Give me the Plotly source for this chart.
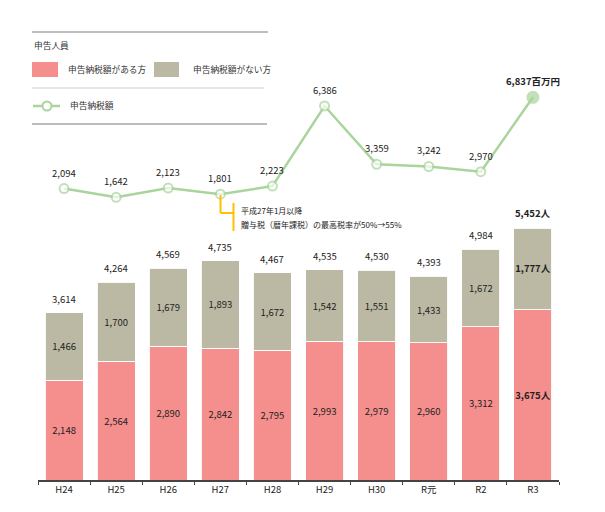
import plotly.graph_objects as go

years = ["H24", "H25", "H26", "H27", "H28", "H29", "H30", "R元", "R2", "R3"]
with_tax = [2148, 2564, 2890, 2842, 2795, 2993, 2979, 2960, 3312, 3675]
without_tax = [1466, 1700, 1679, 1893, 1672, 1542, 1551, 1433, 1672, 1777]
totals = [3614, 4264, 4569, 4735, 4467, 4535, 4530, 4393, 4984, 5452]
tax_amount = [2094, 1642, 2123, 1801, 2223, 6386, 3359, 3242, 2970, 6837]

PINK = "#f58f8d"
GRAY = "#bbb9a4"
GREEN = "#a9d49c"
ORANGE = "#ffc000"
TXT = "#222222"
FONT = "Noto Sans CJK JP, sans-serif"

W, H = 605, 512
L, R, T, B = 38, 46, 20, 32
PW, PH = W - L - R, H - T - B


def px(x):
    return (x - L) / PW


def py(y):
    return (H - B - y) / PH


def label(v, i, unit=""):
    s = f"{v:,}"
    if i == len(years) - 1:
        return f"<b>{s}{unit}</b>"
    return s


fig = go.Figure()

fig.add_trace(go.Bar(
    x=years, y=with_tax, name="申告納税額がある方",
    marker=dict(color=PINK, line=dict(color="rgba(255,255,255,0.9)", width=1)),
    text=[label(v, i, "人") for i, v in enumerate(with_tax)],
    textposition="inside", insidetextanchor="middle", textangle=0,
    constraintext="none", textfont=dict(size=9.5, color=TXT, family=FONT),
    hoverinfo="skip",
))
fig.add_trace(go.Bar(
    x=years, y=without_tax, name="申告納税額がない方",
    marker=dict(color=GRAY, line=dict(color="rgba(255,255,255,0.9)", width=1)),
    text=[label(v, i, "人") for i, v in enumerate(without_tax)],
    textposition="inside", insidetextanchor="middle", textangle=0,
    constraintext="none", textfont=dict(size=9.5, color=TXT, family=FONT),
    hoverinfo="skip",
))

n = len(years)
fig.add_trace(go.Scatter(
    x=years, y=tax_amount, yaxis="y2", mode="lines+markers", name="申告納税額",
    line=dict(color=GREEN, width=2.5),
    marker=dict(
        size=[9] * (n - 1) + [11],
        color=["white"] * (n - 1) + [GREEN],
        line=dict(color=GREEN, width=2),
    ),
    hoverinfo="skip",
))

# totals above bars
for i, (yr, t) in enumerate(zip(years, totals)):
    fig.add_annotation(x=yr, y=t, yref="y", text=label(t, i, "人"), showarrow=False,
                       yshift=14, font=dict(size=9.5, color=TXT, family=FONT))

# line value labels
for i, (yr, v) in enumerate(zip(years, tax_amount)):
    fig.add_annotation(x=yr, y=v, yref="y2", text=label(v, i, "百万円"), showarrow=False,
                       yshift=16, font=dict(size=9.5, color=TXT, family=FONT))

# bracket note at H27
shapes = [
    dict(type="line", xref="paper", yref="paper", x0=px(220.5), x1=px(220.5),
         y0=py(195), y1=py(213), line=dict(color=ORANGE, width=2)),
    dict(type="line", xref="paper", yref="paper", x0=px(220.5), x1=px(233.5),
         y0=py(213), y1=py(213), line=dict(color=ORANGE, width=2)),
    dict(type="line", xref="paper", yref="paper", x0=px(233.5), x1=px(233.5),
         y0=py(203), y1=py(231), line=dict(color=ORANGE, width=2)),
]
fig.add_annotation(x=px(239), y=py(210.5), xref="paper", yref="paper", xanchor="left",
                   yanchor="middle", text="平成27年1月以降", showarrow=False,
                   font=dict(size=8, color=TXT, family=FONT))
fig.add_annotation(x=px(239), y=py(224), xref="paper", yref="paper", xanchor="left",
                   yanchor="middle", text="贈与税（暦年課税）の最高税率が50%→55%",
                   showarrow=False, font=dict(size=8, color=TXT, family=FONT))

# legend box drawn by hand
shapes += [
    dict(type="line", xref="paper", yref="paper", x0=px(32), x1=px(268),
         y0=py(32), y1=py(32), line=dict(color="#bdbdbd", width=2)),
    dict(type="line", xref="paper", yref="paper", x0=px(32), x1=px(264),
         y0=py(88), y1=py(88), line=dict(color="#cfcfcf", width=1)),
    dict(type="line", xref="paper", yref="paper", x0=px(32), x1=px(267),
         y0=py(124), y1=py(124), line=dict(color="#bdbdbd", width=2)),
    dict(type="rect", xref="paper", yref="paper", x0=px(32), x1=px(58),
         y0=py(77), y1=py(62), fillcolor=PINK, line=dict(width=0)),
    dict(type="rect", xref="paper", yref="paper", x0=px(154), x1=px(179),
         y0=py(77), y1=py(62), fillcolor=GRAY, line=dict(width=0)),
    dict(type="line", xref="paper", yref="paper", x0=px(33), x1=px(60),
         y0=py(106), y1=py(106), line=dict(color=GREEN, width=2.5)),
    dict(type="circle", xref="paper", yref="paper", x0=px(42.5), x1=px(51.5),
         y0=py(110.5), y1=py(101.5), fillcolor="white", line=dict(color=GREEN, width=2)),
]
for txt, x, y in [("申告人員", 32, 45), ("申告納税額がある方", 66, 69),
                  ("申告納税額がない方", 191, 69), ("申告納税額", 68, 105)]:
    fig.add_annotation(x=px(x), y=py(y), xref="paper", yref="paper", xanchor="left",
                       yanchor="middle", text=txt, showarrow=False,
                       font=dict(size=8.7, color="#333333", family=FONT))

fig.update_layout(
    width=W, height=H,
    margin=dict(l=L, r=R, t=T, b=B),
    barmode="stack", bargap=0.27,
    plot_bgcolor="white", paper_bgcolor="white",
    showlegend=False,
    shapes=shapes,
    font=dict(family=FONT, size=10, color=TXT),
    xaxis=dict(
        range=[-0.5, len(years) - 0.5],
        showline=True, linecolor="#444444", linewidth=1.5,
        ticks="outside", tickson="boundaries", ticklen=3, tickcolor="#444444",
        tickfont=dict(size=9.5, color=TXT), showgrid=False, fixedrange=True,
    ),
    yaxis=dict(range=[0, 9925], visible=False, showgrid=False, fixedrange=True),
    yaxis2=dict(domain=[py(228.9), 1], range=[0, 10852], anchor="x",
                visible=False, showgrid=False, fixedrange=True),
)

fig.write_html("out.html", config={"displayModeBar": False},
               post_script="document.body.style.margin='0';")
